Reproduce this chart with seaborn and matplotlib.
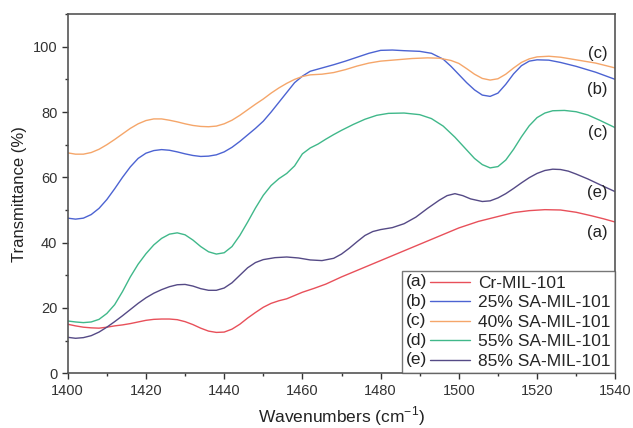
import numpy as np
import pandas as pd
import seaborn as sns
import matplotlib.pyplot as plt
from matplotlib.legend_handler import HandlerBase
from matplotlib.lines import Line2D
from matplotlib.text import Text
from matplotlib.ticker import MultipleLocator

# values
x_a = [1400, 1402, 1404, 1406, 1408, 1410, 1412, 1414, 1416, 1418, 1420, 1422, 1424, 1426,
       1428, 1430, 1432, 1434, 1436, 1438, 1440, 1442, 1444, 1446, 1448, 1450, 1452, 1454,
       1456, 1458, 1460, 1463, 1466, 1470, 1475, 1480, 1485, 1490, 1495, 1500, 1505, 1510,
       1514, 1518, 1522, 1526, 1530, 1534, 1537, 1540]
y_a = [15, 14.5, 14.1, 13.9, 13.8, 14.1, 14.5, 14.8, 15.2, 15.7, 16.2, 16.5, 16.6, 16.6,
       16.4, 15.8, 14.9, 13.8, 12.9, 12.5, 12.6, 13.5, 15.0, 16.9, 18.6, 20.2, 21.4, 22.2,
       22.8, 23.8, 24.8, 26, 27.3, 29.5, 32, 34.5, 37, 39.5, 42, 44.5, 46.5, 48,
       49.2, 49.8, 50.1, 50, 49.3, 48.2, 47.3, 46.3]

x_b = [1400, 1402, 1404, 1406, 1408, 1410, 1412, 1414, 1416, 1418, 1420, 1422, 1424, 1426,
       1428, 1430, 1432, 1434, 1436, 1438, 1440, 1442, 1444, 1446, 1448, 1450, 1452, 1454,
       1456, 1458, 1460, 1462, 1465, 1468, 1471, 1474, 1477, 1480, 1483, 1486, 1490, 1493,
       1496, 1498, 1500, 1502, 1504, 1506, 1508, 1510, 1512, 1514, 1516, 1518, 1520, 1523,
       1526, 1530, 1535, 1540]
y_b = [47.5, 47.2, 47.5, 48.6, 50.5, 53.2, 56.5, 60, 63.2, 65.8, 67.4, 68.2, 68.5, 68.3,
       67.8, 67.2, 66.7, 66.4, 66.5, 66.9, 67.8, 69.2, 71, 73, 75, 77.2, 80, 83,
       86, 89, 91, 92.5, 93.5, 94.5, 95.6, 96.8, 98, 98.9, 99, 98.8, 98.6, 98,
       96.2, 94, 91.5, 89, 86.8, 85.2, 84.8, 85.8, 88.5, 91.7, 94.2, 95.6, 96, 95.9,
       95.2, 94, 92.2, 90]

x_c = [1400, 1402, 1404, 1406, 1408, 1410, 1412, 1414, 1416, 1418, 1420, 1422, 1424, 1426,
       1428, 1430, 1432, 1434, 1436, 1438, 1440, 1442, 1444, 1446, 1448, 1450, 1452, 1454,
       1456, 1458, 1460, 1462, 1465, 1468, 1471, 1474, 1477, 1480, 1484, 1488, 1492, 1495,
       1498, 1500, 1502, 1504, 1506, 1508, 1510, 1512, 1514, 1516, 1518, 1520, 1523, 1526,
       1530, 1535, 1540]
y_c = [67.5, 67.1, 67.1, 67.6, 68.6, 70, 71.6, 73.3, 75, 76.4, 77.4, 77.9, 77.9, 77.5,
       77, 76.4, 75.9, 75.6, 75.5, 75.7, 76.4, 77.5, 79, 80.7, 82.4, 84, 85.8, 87.4,
       88.8, 90, 90.9, 91.4, 91.6, 92.1, 93, 94.1, 95, 95.6, 96, 96.4, 96.6, 96.5,
       95.8, 94.9, 93.3, 91.6, 90.3, 89.8, 90.2, 91.6, 93.5, 95.2, 96.3, 96.9, 97.1, 96.8,
       96, 95, 93.5]

x_d = [1400, 1402, 1404, 1406, 1408, 1410, 1412, 1414, 1416, 1418, 1420, 1422, 1424, 1426,
       1428, 1430, 1432, 1434, 1436, 1438, 1440, 1442, 1444, 1446, 1448, 1450, 1452, 1454,
       1456, 1458, 1460, 1462, 1464, 1466, 1468, 1470, 1473, 1476, 1479, 1482, 1486, 1490,
       1493, 1496, 1499, 1502, 1504, 1506, 1508, 1510, 1512, 1514, 1516, 1518, 1520, 1522,
       1524, 1527, 1530, 1533, 1536, 1540]
y_d = [16, 15.7, 15.5, 15.7, 16.5, 18.3, 21, 25, 29.5, 33.4, 36.6, 39.3, 41.3, 42.6,
       43, 42.4, 40.8, 38.8, 37.2, 36.5, 36.9, 38.8, 42.2, 46.3, 50.6, 54.5, 57.5, 59.6,
       61.2, 63.5, 67.2, 69, 70.2, 71.7, 73.1, 74.4, 76.2, 77.8, 79, 79.6, 79.7, 79.2,
       78, 75.7, 72.3, 68.4, 65.8, 63.9, 62.9, 63.3, 65.3, 68.6, 72.4, 75.8, 78.3, 79.7,
       80.4, 80.5, 80.1, 79.1, 77.5, 75.2]

x_e = [1400, 1402, 1404, 1406, 1408, 1410, 1412, 1414, 1416, 1418, 1420, 1422, 1424, 1426,
       1428, 1430, 1432, 1434, 1436, 1438, 1440, 1442, 1444, 1446, 1448, 1450, 1453, 1456,
       1459, 1462, 1465, 1468, 1470, 1472, 1474, 1476, 1478, 1480, 1483, 1486, 1489, 1492,
       1495, 1497, 1499, 1501, 1503, 1506, 1508, 1510, 1512, 1514, 1516, 1518, 1520, 1522,
       1524, 1526, 1528, 1530, 1533, 1536, 1540]
y_e = [11, 10.7, 10.9, 11.5, 12.6, 14.1, 15.8, 17.6, 19.5, 21.4, 23.1, 24.5, 25.6, 26.5,
       27.1, 27.2, 26.7, 25.9, 25.4, 25.4, 26.1, 27.7, 30, 32.3, 33.9, 34.8, 35.4, 35.6,
       35.3, 34.7, 34.5, 35.2, 36.5, 38.3, 40.3, 42.2, 43.4, 44, 44.6, 45.8, 47.8, 50.5,
       53, 54.4, 55, 54.4, 53.4, 52.6, 52.8, 53.7, 55, 56.6, 58.3, 59.9, 61.2, 62.1,
       62.5, 62.4, 61.9, 61, 59.5, 57.8, 55.6]

letters = ["(a)", "(b)", "(c)", "(d)", "(e)"]
names = ["Cr-MIL-101", "25% SA-MIL-101", "40% SA-MIL-101", "55% SA-MIL-101", "85% SA-MIL-101"]
colors = ["#e8505a", "#4c63d2", "#f5a66a", "#40b88a", "#554a86"]

# curve-end labels (as printed in the original)
end_labels = ["(c)", "(b)", "(c)", "(e)", "(a)"]
end_y = [97.8, 86.8, 73.8, 55.4, 43.0]

xs = [x_a, x_b, x_c, x_d, x_e]
ys = [y_a, y_b, y_c, y_d, y_e]
frames = []
for name, x, y in zip(names, xs, ys):
    frames.append(pd.DataFrame({"wn": x, "T": y, "sample": name}))
df = pd.concat(frames, ignore_index=True)

sns.set_style("ticks")
plt.rcParams["font.family"] = ["Liberation Sans", "DejaVu Sans"]

fig = plt.figure(figsize=(6.33, 4.28), dpi=100)
ax = fig.add_axes([0.107, 0.128, 0.865, 0.839])

sns.lineplot(data=df, x="wn", y="T", hue="sample", hue_order=names,
             palette=colors, linewidth=1.0, sort=True, ax=ax, legend=False)

ax.set_xlim(1400, 1540)
ax.set_ylim(0, 110)
ax.xaxis.set_major_locator(MultipleLocator(20))
ax.xaxis.set_minor_locator(MultipleLocator(10))
ax.yaxis.set_major_locator(MultipleLocator(20))
ax.yaxis.set_minor_locator(MultipleLocator(10))
ax.tick_params(which="major", direction="out", length=4, width=1, labelsize=10.5, colors="#333333")
ax.tick_params(which="minor", direction="out", length=2.5, width=1, colors="#333333")
for sp in ax.spines.values():
    sp.set_linewidth(1.2)
    sp.set_color("#555555")

ax.set_xlabel("Wavenumbers (cm$^{\\mathregular{-1}}$)", fontsize=12.5, color="#222222", labelpad=5)
ax.set_ylabel("Transmittance (%)", fontsize=12, color="#222222", labelpad=4)

for lab, yy in zip(end_labels, end_y):
    ax.text(1535.5, yy, lab, ha="center", va="center", fontsize=12, color="#222222")


class LetterHandler(HandlerBase):
    def create_artists(self, legend, orig_handle, xdescent, ydescent, width, height, fontsize, trans):
        letter = orig_handle.get_label()
        t = Text(-xdescent, -ydescent + height / 2, letter, ha="left", va="center",
                 fontsize=fontsize, color="#222222", transform=trans)
        x0 = -xdescent + fontsize * 1.38
        ln = Line2D([x0, width - xdescent], [height / 2 - ydescent] * 2,
                    color=orig_handle.get_color(), linewidth=1.0, transform=trans)
        return [t, ln]


handles = [Line2D([], [], color=c, label=l) for c, l in zip(colors, letters)]
leg = ax.legend(handles, names, loc="lower right", fontsize=12.5, frameon=True,
                handler_map={Line2D: LetterHandler()}, handlelength=3.7,
                handletextpad=0.45, labelspacing=0.25, borderpad=0.25,
                borderaxespad=0.0, fancybox=False)
leg.get_frame().set_edgecolor("#555555")
leg.get_frame().set_linewidth(1.0)

fig.savefig("out.png", dpi=100)
